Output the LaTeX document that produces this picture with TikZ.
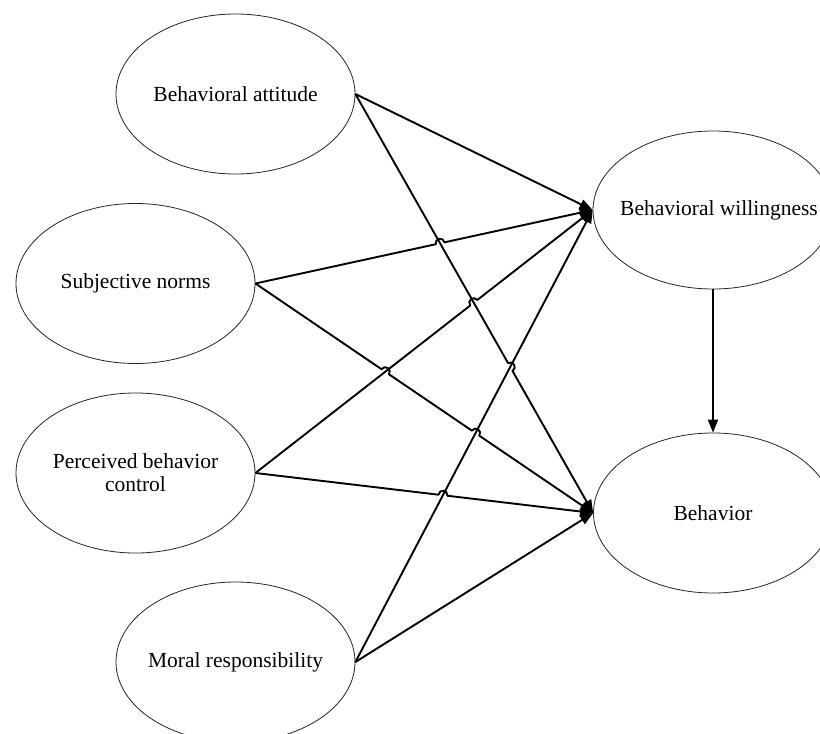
\documentclass[tikz,border=0pt]{standalone}
\usepackage{fontspec}
\setmainfont{Liberation Serif}
\usetikzlibrary{shapes.geometric,arrows.meta,calc}
\newcommand\mkhop[3]{%
  \coordinate (#1a) at ($(#1)!4.5pt!(#2)$);
  \coordinate (#1b) at ($(#1)!4.5pt!(#3)$);
  \coordinate (#1c) at ($(#1a)!6pt!90:(#1)$);
  \coordinate (#1d) at ($(#1b)!6pt!-90:(#1)$);
}
\begin{document}
\begin{tikzpicture}[x=1pt,y=-1pt,
  oval/.style={ellipse, draw=black!85, line width=0.8pt, minimum width=239pt, minimum height=160pt, inner sep=0pt},
  lbl/.style={font=\fontsize{21.5}{23}\selectfont, align=center, inner sep=0pt},
  conn/.style={line width=1.9pt, line join=round, -{Triangle[length=13pt,width=10pt]}}]
\useasboundingbox (0,0) rectangle (820,734);
\fill[white] (0,0) rectangle (820,734);
% ellipses
\node[oval] (ba) at (235.5,94) {};
\node[oval] (sn) at (135.5,283.5) {};
\node[oval] (pbc) at (135.5,473) {};
\node[oval] (mr) at (235.5,662) {};
\node[oval, minimum width=240pt, minimum height=158pt] (bw) at (713,210) {};
\node[oval] (bh) at (713,513) {};
% labels
\node[lbl] (tba) at (ba) {Behavioral attitude};
\node[lbl] (tsn) at (sn) {Subjective norms};
\node[lbl] (tpbc) at (pbc) {Perceived behavior\\control};
\node[lbl] (tmr) at (mr) {Moral responsibility};
\node[lbl, xshift=6pt] (tbw) at (bw) {Behavioral willingness};
\node[lbl] (tbh) at (bh) {Behavior};
% crossings
\coordinate (xcb) at (intersection of sn.east--bw.west and ba.east--bh.west);
\coordinate (xeb) at (intersection of pbc.east--bw.west and ba.east--bh.west);
\coordinate (xbg) at (intersection of ba.east--bh.west and mr.east--bw.west);
\coordinate (xde) at (intersection of sn.east--bh.west and pbc.east--bw.west);
\coordinate (xdg) at (intersection of sn.east--bh.west and mr.east--bw.west);
\coordinate (xfg) at (intersection of pbc.east--bh.west and mr.east--bw.west);
\mkhop{xcb}{sn.east}{bw.west}
\mkhop{xeb}{pbc.east}{bw.west}
\mkhop{xbg}{ba.east}{bh.west}
\mkhop{xde}{sn.east}{bh.west}
\mkhop{xdg}{sn.east}{bh.west}
\mkhop{xfg}{pbc.east}{bh.west}
% connectors
\draw[conn] (ba.east) -- (bw.west);
\draw[conn] (mr.east) -- (bw.west);
\draw[conn] (mr.east) -- (bh.west);
\draw[conn] (ba.east) -- (xbga) .. controls (xbgc) and (xbgd) .. (xbgb) -- (bh.west);
\draw[conn] (sn.east) -- (xcba) .. controls (xcbc) and (xcbd) .. (xcbb) -- (bw.west);
\draw[conn] (pbc.east) -- (xeba) .. controls (xebc) and (xebd) .. (xebb) -- (bw.west);
\draw[conn] (sn.east) -- (xdea) .. controls (xdec) and (xded) .. (xdeb)
  -- (xdga) .. controls (xdgc) and (xdgd) .. (xdgb) -- (bh.west);
\draw[conn] (pbc.east) -- (xfga) .. controls (xfgc) and (xfgd) .. (xfgb) -- (bh.west);
\draw[conn] (bw.south) -- (bh.north);
\end{tikzpicture}
\end{document}
